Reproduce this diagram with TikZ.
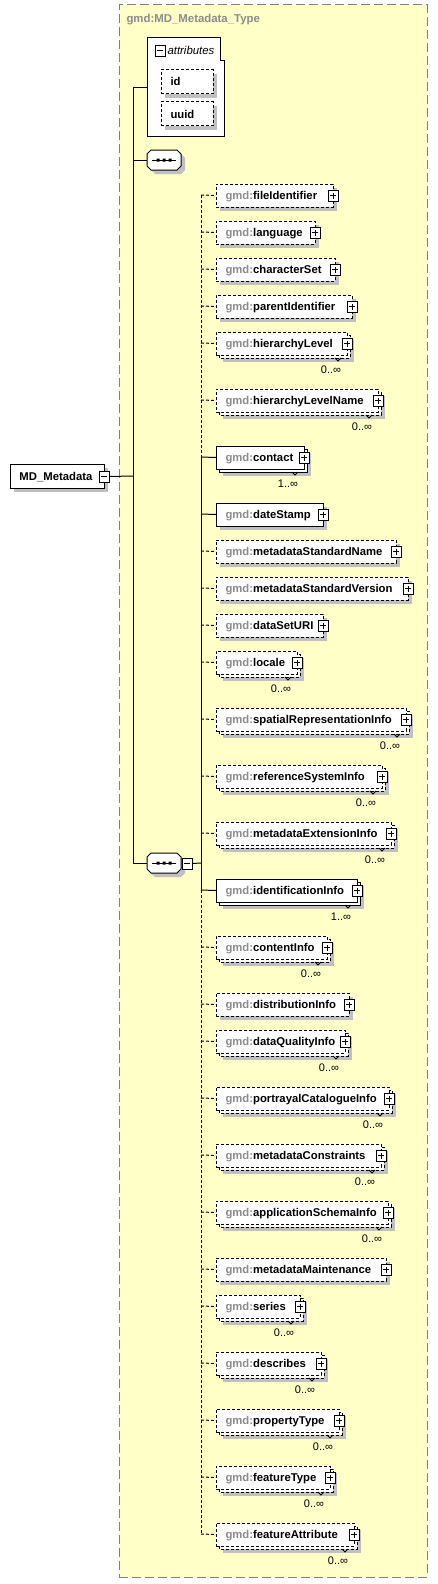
\documentclass[tikz,border=0pt]{standalone}
\usepackage{fontspec}
\setmainfont{Liberation Sans}
\usetikzlibrary{shadows}
\definecolor{bgy}{HTML}{FFFFC8}
\definecolor{shd}{HTML}{C0C0C0}
\definecolor{gtx}{HTML}{8C8C8C}
\definecolor{bord}{HTML}{808080}
\tikzset{
 dsh/.style={dash pattern=on 3pt off 2pt},
 box/.style={draw, fill=white, inner sep=0pt, outer sep=0pt, anchor=north west, line width=1pt},
 lbl/.style={anchor=base west, inner sep=0pt, font=\fontsize{11.3}{13}\selectfont\bfseries},
 crd/.style={anchor=base, inner sep=0pt, font=\fontsize{11}{13}\selectfont},
 pbox/.style={draw, solid, fill=white, line width=1pt, minimum width=10pt, minimum height=11pt, inner sep=0pt, outer sep=0pt, general shadow={fill=black, shadow xshift=1pt, shadow yshift=-1pt}},
 plusbox/.style={pbox, path picture={\draw[solid,line width=1pt] ([xshift=-3pt]path picture bounding box.center) -- ([xshift=3pt]path picture bounding box.center) ([yshift=-3pt]path picture bounding box.center) -- ([yshift=3pt]path picture bounding box.center);}},
 minusbox/.style={pbox, path picture={\draw[solid,line width=1pt] ([xshift=-3pt]path picture bounding box.center) -- ([xshift=3pt]path picture bounding box.center);}},
}
\begin{document}
\begin{tikzpicture}[x=1pt,y=-1pt,line width=1pt]
\useasboundingbox (0,0) rectangle (438,1584);
\fill[white] (0,0) rectangle (438,1584);
% complex type frame
\node[draw=bord, fill=bgy, dash pattern=on 9pt off 4pt, anchor=north west, minimum width=308pt, minimum height=1572pt, inner sep=0pt, outer sep=0pt] (typebox) at (119,5) {};
\node[lbl, text=gtx, font=\fontsize{11.4}{13}\selectfont\bfseries] (title) at (126,23) {gmd:MD\_Metadata\_Type};
% attributes
\draw[fill=white] (147,38) -- (220,38) -- (220,61) -- (224,61) -- (224,137) -- (147,137) -- cycle;
\coordinate (attrw) at (147,88);
\node[minusbox] (amin) at (160,51) {};
\node[anchor=base west, inner sep=0pt, font=\fontsize{11.4}{13}\selectfont\itshape] (atxt) at (167,55) {attributes};
\fill[shd] (165,74) rectangle (217,98);
\node[box, dsh, minimum width=52pt, minimum height=24pt] (id) at (161,70) {};
\node[lbl] (idt) at (170,86) {id};
\fill[shd] (165,106) rectangle (217,130);
\node[box, dsh, minimum width=52pt, minimum height=24pt] (uuid) at (161,102) {};
\node[lbl] (uuidt) at (170,118) {uuid};
% compositor 1
\fill[shd] (155,154) -- (181,154) -- (185,158) -- (185,170) -- (181,174) -- (155,174) -- (151,170) -- (151,158) -- cycle;
\draw[fill=white] (151,150) -- (177,150) -- (181,154) -- (181,166) -- (177,170) -- (151,170) -- (147,166) -- (147,154) -- cycle;
\draw (152,160) -- (176,160);
\fill (156.5,158.5) rectangle +(3,3) (162.5,158.5) rectangle +(3,3) (168.5,158.5) rectangle +(3,3);
\coordinate (c1w) at (147,160);
% compositor 2
\fill[shd] (155,857) -- (181,857) -- (185,861) -- (185,873) -- (181,877) -- (155,877) -- (151,873) -- (151,861) -- cycle;
\draw[fill=white] (151,853) -- (177,853) -- (181,857) -- (181,869) -- (177,873) -- (151,873) -- (147,869) -- (147,857) -- cycle;
\draw (152,863) -- (176,863);
\fill (156.5,861.5) rectangle +(3,3) (162.5,861.5) rectangle +(3,3) (168.5,861.5) rectangle +(3,3);
\coordinate (c2w) at (147,863);
\node[minusbox] (c2min) at (187,863.5) {};
% root element
\fill[shd] (14,468) rectangle (108,492);
\node[box, minimum width=94pt, minimum height=24pt] (root) at (10,464) {};
\node[lbl] (roott) at (19,480) {MD\_Metadata};
\node[minusbox] (rmin) at (104,476.5) {};
% main spine
\coordinate (sp0) at (133,88);
\coordinate (sp1) at (133,160);
\coordinate (spr) at (133,476);
\coordinate (sp2) at (133,863);
\draw (sp0) -- (sp2);
\draw (sp0) -- (attrw);
\draw (sp1) -- (c1w);
\draw (sp2) -- (c2w);
\draw (rmin.east) -- (spr);
% sequence spine
\coordinate (q0) at (201,195);
\coordinate (qa) at (201,457);
\coordinate (qb) at (201,890);
\coordinate (q1) at (201,1534);
\coordinate (qc) at (201,863);
\draw[dsh] (q0) -- (qa);
\draw (qa) -- (qb);
\draw[dsh] (qb) -- (q1);
\draw (c2min.east) -- (qc);
% children
\foreach \y/\R/\m/\s/\nm in {
195/333/0/0/fileIdentifier,
232/315/0/0/language,
269/335/0/0/characterSet,
306/352/0/0/parentIdentifier,
343/347/1/0/hierarchyLevel,
400/378/1/0/hierarchyLevelName,
457/304/1/1/contact,
514/323/0/1/dateStamp,
551/396/0/0/metadataStandardName,
588/408/0/0/metadataStandardVersion,
625/323/0/0/dataSetURI,
662/297/1/0/locale,
719/406/1/0/spatialRepresentationInfo,
776/382/1/0/referenceSystemInfo,
833/391/1/0/metadataExtensionInfo,
890/357/1/1/identificationInfo,
947/327/1/0/contentInfo,
1004/349/0/0/distributionInfo,
1041/345/1/0/dataQualityInfo,
1098/389/1/0/portrayalCatalogueInfo,
1155/381/1/0/metadataConstraints,
1212/388/1/0/applicationSchemaInfo,
1269/386/0/0/metadataMaintenance,
1306/300/1/0/series,
1363/321/1/0/describes,
1420/339/1/0/propertyType,
1477/330/1/0/featureType,
1534/354/1/0/featureAttribute}{
 \ifnum\s=1 \tikzset{cur/.style={solid}}\else\tikzset{cur/.style={dsh}}\fi
 \ifnum\m=1
  \fill[shd] (223,\y-4) rectangle (\R+7,\y+19);
  \draw[cur, fill=white] (219,\y-8) rectangle (\R+3,\y+15);
  \draw[solid, line width=0.8pt] (\R-12,\y+15) -- (\R-9,\y+18) -- (\R-6,\y+15);
  \node[crd] (k\nm) at (\R-16,\y+30) {\s..∞};
 \else
  \fill[shd] (220,\y-7) rectangle (\R+4,\y+16);
 \fi
 \pgfmathsetmacro\w{\R-216}
 \node[box, cur, minimum width=\w pt, minimum height=23pt] (b\nm) at (216,\y-11) {};
 \coordinate (s\nm) at (201,\y);
 \draw[cur] (s\nm) -- (b\nm.west);
 \node[lbl] (t\nm) at (225,\y+4) {\textcolor{gtx}{gmd:}\nm};
 \node[plusbox] (p\nm) at (\R,\y+0.5) {};
}
\end{tikzpicture}
\end{document}
